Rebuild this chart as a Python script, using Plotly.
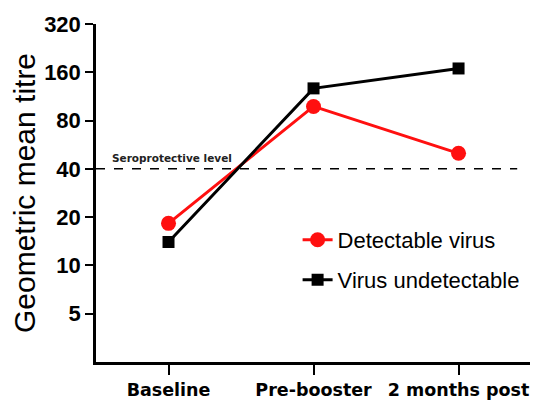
import math
import plotly.graph_objects as go

categories = ["Baseline", "Pre-booster", "2 months post"]
detectable = [18.3, 98, 50]
undetectable = [14, 127, 169]
y_ticks = [5, 10, 20, 40, 80, 160, 320]
y_ticklabels = ["5", "10", "20", "40", "80", "160", "320"]
seroprotective_level = 40

fig = go.Figure()
fig.add_trace(go.Scatter(
    x=categories, y=detectable, mode="lines+markers", name="Detectable virus",
    line=dict(color="#ff1010", width=3),
    marker=dict(symbol="circle", size=15, color="#ff1010"),
    legend="legend",
))
fig.add_trace(go.Scatter(
    x=categories, y=undetectable, mode="lines+markers", name="Virus undetectable",
    line=dict(color="#000000", width=3),
    marker=dict(symbol="square", size=12, color="#000000"),
    legend="legend2",
))

fig.add_shape(type="line", xref="paper", yref="y", x0=0, x1=0.936,
              y0=seroprotective_level, y1=seroprotective_level,
              line=dict(color="black", width=1.5, dash="dash"))
fig.add_annotation(xref="paper", yref="y", x=0.03, y=math.log10(seroprotective_level),
                   text="<b>Seroprotective level</b>", showarrow=False,
                   xanchor="left", yanchor="bottom", yshift=3,
                   font=dict(family="DejaVu Sans", size=10.5, color="#222"))

legend_font = dict(family="Liberation Sans, Arial", size=22, color="black")
fig.update_layout(
    width=538, height=405,
    margin=dict(l=88, r=0, t=16, b=51),
    paper_bgcolor="white", plot_bgcolor="white",
    showlegend=True,
    legend=dict(x=0.448, y=0.361, xanchor="left", yanchor="middle",
                font=legend_font, bgcolor="rgba(0,0,0,0)"),
    legend2=dict(x=0.448, y=0.243, xanchor="left", yanchor="middle",
                 font=legend_font, bgcolor="rgba(0,0,0,0)"),
    xaxis=dict(type="category", categoryarray=categories, range=[-0.5, 2.603],
               automargin=False,
               showline=True, linecolor="black", linewidth=2.5,
               ticks="outside", ticklen=10, tickwidth=2, tickcolor="black",
               showgrid=False, zeroline=False,
               tickfont=dict(family="DejaVu Sans", size=17.5, color="black", weight="bold")),
    yaxis=dict(type="log", range=[0.39794, 2.50515], automargin=False,
               tickvals=y_ticks, ticktext=y_ticklabels,
               showline=True, linecolor="black", linewidth=2.5,
               ticks="outside", ticklen=8, tickwidth=2, tickcolor="black",
               showgrid=False, zeroline=False,
               tickfont=dict(family="Liberation Sans, Arial", size=22,
                             color="black", weight="bold"),
               title=dict(text="Geometric mean titre", standoff=11,
                          font=dict(family="Liberation Sans, Arial", size=30, color="black"))),
)

fig.write_html("out.html")
